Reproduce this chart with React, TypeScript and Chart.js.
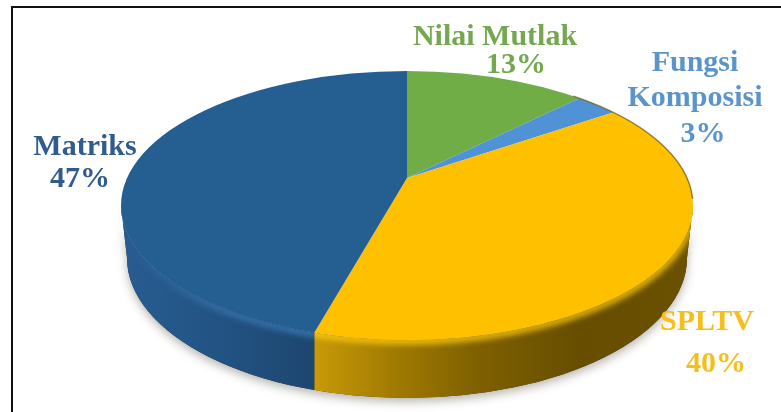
import React, { useEffect, useRef } from "react";
import { Chart, registerables } from "chart.js";

Chart.register(...registerables);

// Slices clockwise from twelve o'clock.
const categories = ["Nilai Mutlak", "Fungsi Komposisi", "SPLTV", "Matriks"];
const shares = [13, 3, 40, 47];
const sliceColors = ["#70AD47", "#4F93D6", "#FFC000", "#255E91"];
const labelColors = ["#74A84F", "#5B93CC", "#F6BE1A", "#2F5B8E"];
const labelLines = [["Nilai Mutlak"], ["Fungsi", "Komposisi"], ["SPLTV"], ["Matriks"]];
// Anchor of each line of a label: [centre x, baseline y]; the last one carries the percentage.
const labelAnchors = [
  [[495, 45], [516, 73]],
  [[695, 71], [695, 106], [703, 142]],
  [[707, 330], [716, 372]],
  [[85, 155], [80, 187]],
];

// Tilted disc: the apex sits above the centre of the ellipse, as in a perspective view.
const APEX = { x: 407, y: 178 };
const TOP = { cx: 407, cy: 205.5, rx: 286, ry: 134.5 };
const BASE = { cx: 407, cy: 258, rx: 280, ry: 140 };
const SQUASH = 0.47;

type Ellipse = typeof TOP;

function rayHit(angle: number, e: Ellipse) {
  const dx = Math.cos(angle);
  const dy = Math.sin(angle) * SQUASH;
  const ox = (APEX.x - e.cx) / e.rx;
  const oy = (APEX.y - e.cy) / e.ry;
  const ux = dx / e.rx;
  const uy = dy / e.ry;
  const a = ux * ux + uy * uy;
  const b = 2 * (ox * ux + oy * uy);
  const c = ox * ox + oy * oy - 1;
  const t = (-b + Math.sqrt(b * b - 4 * a * c)) / (2 * a);
  return { x: APEX.x + dx * t, y: APEX.y + dy * t };
}

function wallPath(ctx: CanvasRenderingContext2D) {
  ctx.beginPath();
  ctx.ellipse(TOP.cx, TOP.cy, TOP.rx, TOP.ry, 0, Math.PI, 0, true);
  ctx.lineTo(BASE.cx + BASE.rx, BASE.cy);
  ctx.ellipse(BASE.cx, BASE.cy, BASE.rx, BASE.ry, 0, 0, Math.PI, false);
  ctx.closePath();
}

const frontAngle = Math.PI / 2;
function holdsFront(start: number, end: number) {
  for (const k of [-2, -1, 0, 1, 2]) {
    const a = frontAngle + k * 2 * Math.PI;
    if (a >= start && a <= end) return true;
  }
  return false;
}

function wallFill(ctx: CanvasRenderingContext2D, color: string, left: number, right: number) {
  const g = ctx.createLinearGradient(left, 0, right, 0);
  if (color === sliceColors[2]) {
    g.addColorStop(0, "#C99A08");
    g.addColorStop(0.2, "#A27C02");
    g.addColorStop(0.42, "#806100");
    g.addColorStop(0.7, "#664D00");
    g.addColorStop(1, "#6B5100");
  } else {
    g.addColorStop(0, "#285D92");
    g.addColorStop(0.55, "#225282");
    g.addColorStop(1, "#1D4670");
  }
  return g;
}

function rimStroke(ctx: CanvasRenderingContext2D, gold: boolean) {
  if (gold) return "#FFCB10";
  // The highlight on the dark slice fades out towards the far left.
  const g = ctx.createLinearGradient(125, 0, 300, 0);
  g.addColorStop(0, "rgba(58,125,184,0)");
  g.addColorStop(0.55, "rgba(58,125,184,0.8)");
  g.addColorStop(1, "#3A7DB8");
  return g;
}

const discPlugin = {
  id: "tiltedDisc",
  beforeDatasetsDraw(chart: any) {
    const ctx: CanvasRenderingContext2D = chart.ctx;
    const arcs = chart.getDatasetMeta(0).data;

    // Soft cast shadow beneath the rim.
    ctx.save();
    ctx.shadowColor = "rgba(60,50,30,0.35)";
    ctx.shadowBlur = 10;
    ctx.shadowOffsetY = 4;
    ctx.fillStyle = "#333";
    wallPath(ctx);
    ctx.fill();
    ctx.restore();

    // Side wall and its bevel, one piece for each slice that reaches the front.
    arcs.forEach((arc: any, i: number) => {
      const s = rayHit(arc.startAngle, TOP);
      const e = rayHit(arc.endAngle, TOP);
      const sFront = s.y >= TOP.cy;
      const eFront = e.y >= TOP.cy;
      if (!sFront && !eFront && !holdsFront(arc.startAngle, arc.endAngle)) return;
      const right = sFront ? s.x : TOP.cx + TOP.rx + 2;
      const left = eFront ? e.x : TOP.cx - TOP.rx - 2;
      const isGold = sliceColors[i] === sliceColors[2];
      ctx.save();
      ctx.beginPath();
      ctx.rect(left, 0, right - left, 412);
      ctx.clip();
      wallPath(ctx);
      ctx.fillStyle = wallFill(ctx, sliceColors[i], left, right);
      ctx.fill();
      wallPath(ctx);
      ctx.clip();
      ctx.filter = "blur(3px)";
      ctx.lineWidth = 6;
      ctx.strokeStyle = rimStroke(ctx, isGold);
      ctx.beginPath();
      ctx.ellipse(TOP.cx, TOP.cy + 1, TOP.rx, TOP.ry, 0, 0, Math.PI);
      ctx.stroke();
      ctx.restore();
    });

    // Everything the library paints next is squashed about the apex and cut to the top face.
    ctx.save();
    ctx.beginPath();
    ctx.ellipse(TOP.cx, TOP.cy, TOP.rx, TOP.ry, 0, 0, Math.PI * 2);
    ctx.clip();
    ctx.translate(APEX.x, APEX.y);
    ctx.scale(1, SQUASH);
    ctx.translate(-APEX.x, -APEX.y);
  },
  afterDatasetsDraw(chart: any) {
    const ctx: CanvasRenderingContext2D = chart.ctx;
    ctx.restore();

    // Darkened far edge on the right of the top face.
    ctx.save();
    ctx.filter = "blur(0.6px)";
    ctx.lineWidth = 1.5;
    ctx.strokeStyle = "rgba(110,80,0,0.7)";
    ctx.beginPath();
    ctx.ellipse(TOP.cx, TOP.cy, TOP.rx, TOP.ry, 0, -0.95, -0.05);
    ctx.stroke();
    ctx.restore();

    // Frame lines along the top and left.
    ctx.fillStyle = "#111";
    ctx.fillRect(11, 6, 770, 2);
    ctx.fillRect(11, 6, 2, 406);

    // Category names with their percentages.
    ctx.save();
    ctx.textAlign = "center";
    ctx.textBaseline = "alphabetic";
    ctx.font = 'bold 30px "Liberation Serif"';
    categories.forEach((_, i) => {
      const lines = [...labelLines[i], `${shares[i]}%`];
      ctx.fillStyle = labelColors[i];
      lines.forEach((text, j) => {
        const [x, y] = labelAnchors[i][j];
        ctx.fillText(text, x, y);
      });
    });
    ctx.restore();
  },
};

export default function App() {
  const ref = useRef<HTMLCanvasElement>(null);
  useEffect(() => {
    if (!ref.current) return;
    const chart = new Chart(ref.current, {
      type: "pie",
      data: {
        labels: categories,
        datasets: [
          {
            data: shares,
            backgroundColor: sliceColors,
            borderWidth: 0,
            radius: 420,
            clip: false,
          } as any,
        ],
      },
      options: {
        responsive: false,
        animation: false,
        layout: { padding: { left: 33, right: 0, top: 0, bottom: 56 } },
        plugins: { legend: { display: false }, tooltip: { enabled: false } },
      },
      plugins: [discPlugin],
    });
    return () => chart.destroy();
  }, []);
  return (
    <div style={{ position: "absolute", left: 0, top: 0, width: 781, height: 412, background: "#fff" }}>
      <canvas ref={ref} width={781} height={412} style={{ display: "block" }} />
    </div>
  );
}
